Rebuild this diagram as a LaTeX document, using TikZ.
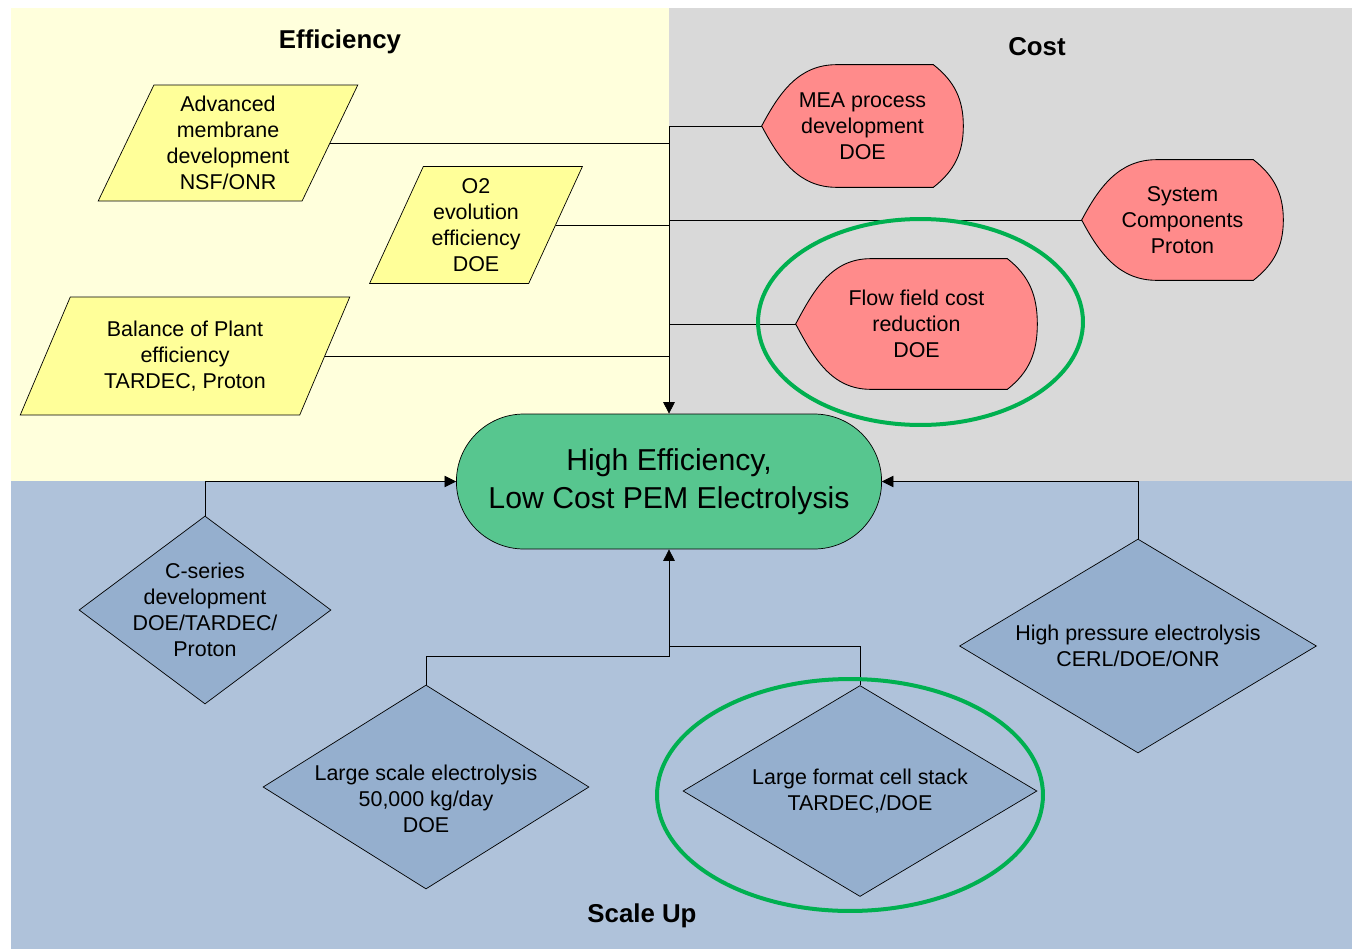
\documentclass[tikz,border=0pt]{standalone}
\usepackage{fontspec}
\setmainfont{Liberation Sans}
\usetikzlibrary{arrows.meta,shapes.geometric,shapes.misc,calc}
\definecolor{paleyel}{HTML}{FFFFDC}
\definecolor{palegrey}{HTML}{D9D9D9}
\definecolor{paleblue}{HTML}{AFC2DA}
\definecolor{parafill}{HTML}{FFFF99}
\definecolor{redfill}{HTML}{FF8B8B}
\definecolor{diafill}{HTML}{95AFCE}
\definecolor{corefill}{HTML}{57C68F}
\definecolor{ringgreen}{HTML}{00B050}
\pgfdeclarelayer{back}
\pgfdeclarelayer{mid}
\pgfsetlayers{back,mid,main}
\newcommand{\bodyfont}{\fontsize{12.2}{14.8}\selectfont}
% display-like outline behind a cost node
\newcommand{\costshape}[1]{%
  \begin{pgfonlayer}{mid}
    \draw[fill=redfill,line width=0.5pt] (#1.west) to[out=62,in=180] ($(#1.north west)+(1.5cm,0)$)
      -- ($(#1.north east)+(-0.6cm,0)$) to[out=-38,in=90] (#1.east)
      to[out=-90,in=38] ($(#1.south east)+(-0.6cm,0)$) -- ($(#1.south west)+(1.5cm,0)$)
      to[out=180,in=-62] (#1.west) -- cycle;
  \end{pgfonlayer}}

\begin{document}
\begin{tikzpicture}[x=0.02cm,y=-0.02cm,>={Triangle[length=6.5pt,width=6.5pt]},
    line width=0.55pt,
    every node/.style={font=\bodyfont},
    title/.style={font=\fontsize{14.7}{17}\selectfont\bfseries},
    para/.style={trapezium,trapezium left angle=64,trapezium right angle=116,
      trapezium stretches=true,draw,fill=parafill,inner sep=1pt,align=center},
    costbox/.style={draw=none,inner sep=0pt,align=center},
    dia/.style={diamond,draw,fill=diafill,inner sep=0pt},
    dtext/.style={align=center,font=\bodyfont},
    ring/.style={ellipse,draw=ringgreen,line width=0.08cm}]
  \useasboundingbox (0,0) rectangle (1352,950);
  \begin{pgfonlayer}{back}
    \fill[paleyel] (11,8) rectangle (669,481);
    \fill[palegrey] (669,8) rectangle (1352,481);
    \fill[paleblue] (11,481) rectangle (1352,949);
  \end{pgfonlayer}

  % area titles
  \node[title] (eff) at (340,42) {Efficiency};
  \node[title] (cost) at (1037,47) {Cost};
  \node[title] (scale) at (642,916) {Scale Up};

  % efficiency inputs
  \node[para,minimum width=5.2cm,minimum height=2.32cm] (adv) at (228,143)
    {Advanced\\membrane\\development\\NSF/ONR};
  \node[para,minimum width=4.26cm,minimum height=2.34cm] (otwo) at (476,225)
    {O2\\evolution\\efficiency\\DOE};
  \node[para,minimum width=6.6cm,minimum height=2.36cm] (bop) at (185,356)
    {Balance of Plant\\efficiency\\TARDEC, Proton};

  % cost inputs
  \node[costbox,minimum width=4.02cm,minimum height=2.44cm] (mea) at (862.5,126)
    {MEA process\\development\\DOE};
  \node[costbox,minimum width=4.02cm,minimum height=2.4cm] (sys) at (1182.5,220)
    {System\\Components\\Proton};
  \node[costbox,minimum width=4.82cm,minimum height=2.6cm] (flow) at (916.5,324)
    {Flow field cost\\reduction\\DOE};
  \costshape{mea}
  \costshape{sys}
  \costshape{flow}

  % goal
  \node[rounded rectangle,draw,fill=corefill,minimum width=8.74cm,minimum height=2.7cm,
    align=center,font=\fontsize{17.2}{21.5}\selectfont] (core) at (669,481.5)
    {High Efficiency,\\Low Cost PEM Electrolysis};

  % scale-up inputs
  \node[dia,minimum width=5.04cm,minimum height=3.76cm,
    label={[dtext]center:{C-series\\development\\DOE/TARDEC/\\Proton}}] (cser) at (205,610) {};
  \node[dia,minimum width=6.52cm,minimum height=4.08cm,
    label={[dtext,yshift=-0.24cm]center:{Large scale electrolysis\\50,000 kg/day\\DOE}}] (lscale) at (426,787) {};
  \node[dia,minimum width=7.08cm,minimum height=4.22cm,
    label={[dtext]center:{Large format cell stack\\TARDEC,/DOE}}] (lformat) at (860,791) {};
  \node[dia,minimum width=7.14cm,minimum height=4.28cm,
    label={[dtext]center:{High pressure electrolysis\\CERL/DOE/ONR}}] (hpress) at (1138,646) {};

  % connectors
  \draw[->] (mea.west) -| (core.north);
  \foreach \n in {adv,otwo,bop} \draw (\n.east) -- (\n.east -| core.north);
  \foreach \n in {sys,flow} \draw (\n.west) -- (\n.west -| core.north);
  \draw[->] (cser.north) |- (core.west);
  \draw[->] (hpress.north) |- (core.east);
  \coordinate (jl) at (669,656);
  \coordinate (jr) at (669,646);
  \draw[->] (lscale.north) |- (jl) -- (core.south);
  \draw (lformat.north) |- (jr);

  % highlights
  \node[ring,minimum width=6.5cm,minimum height=4.12cm] (hl1) at (920.5,322) {};
  \node[ring,minimum width=7.72cm,minimum height=4.64cm] (hl2) at (850,795) {};
\end{tikzpicture}
\end{document}
